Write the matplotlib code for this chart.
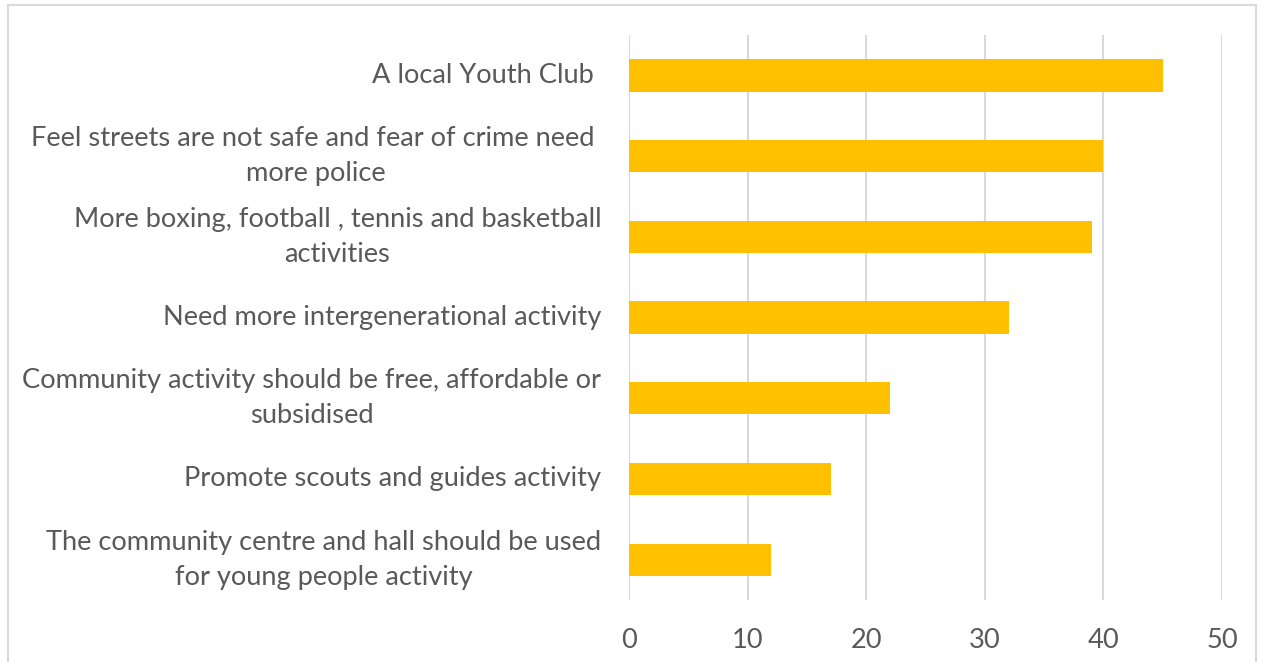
import matplotlib.pyplot as plt
from matplotlib.patches import Rectangle

# Data
categories = [
    "A local Youth Club ",
    "Feel streets are not safe and fear of crime need \nmore police",
    "More boxing, football , tennis and basketball\nactivities",
    "Need more intergenerational activity",
    "Community activity should be free, affordable or\nsubsidised",
    "Promote scouts and guides activity",
    "The community centre and hall should be used\nfor young people activity",
]
values = [45, 40, 39, 32, 22, 17, 12]
x_ticks = [0, 10, 20, 30, 40, 50]

bar_color = "#FFC000"
text_color = "#595959"
grid_color = "#D9D9D9"

plt.rcParams["font.family"] = ["Lato", "DejaVu Sans"]

fig = plt.figure(figsize=(12.64, 6.62), dpi=100)
ax = fig.add_axes([629 / 1264, 1 - 600 / 662, (1222 - 629) / 1264, (600 - 35) / 662])

positions = list(range(len(categories)))
ax.barh(positions, values, height=0.4, color=bar_color, zorder=3)

ax.set_ylim(len(categories) - 0.5, -0.5)
ax.set_xlim(0, 50)
ax.set_xticks(x_ticks)
ax.set_xticklabels([str(t) for t in x_ticks])
ax.set_yticks(positions)
ax.set_yticklabels(categories, multialignment="center", linespacing=1.5, va="center")

ax.grid(axis="x", color=grid_color, linewidth=1.5, zorder=0)
for side in ["top", "right", "left", "bottom"]:
    ax.spines[side].set_visible(False)
ax.tick_params(axis="both", length=0, colors=text_color, labelsize=19.6)
ax.tick_params(axis="y", pad=20)
ax.tick_params(axis="x", pad=20)

# chart area border
fig.patches.append(
    Rectangle((8 / 1264, -0.05), (1256 - 8) / 1264, 1 - 5 / 662 + 0.05,
              transform=fig.transFigure, fill=False, edgecolor=grid_color, linewidth=1.5)
)

fig.savefig("out.png", dpi=100)
